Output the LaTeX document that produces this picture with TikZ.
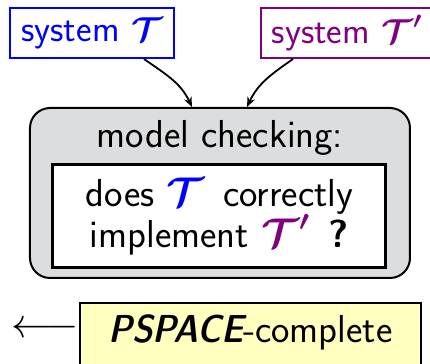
\documentclass[tikz,border=0pt]{standalone}
\usepackage{amsmath,amssymb,bm}
\usetikzlibrary{arrows.meta}
\definecolor{sysblue}{RGB}{0,0,255}
\definecolor{syspurple}{RGB}{128,0,128}
\definecolor{boxgray}{RGB}{220,221,223}
\definecolor{paleyellow}{RGB}{255,255,192}
\newcommand{\sysT}{\bm{\mathcal{T}}}
\newcommand{\sysTp}{\bm{\mathcal{T}'}}
\begin{document}
\begin{tikzpicture}[x=0.5pt,y=-0.5pt,
  font=\sffamily\fontsize{19.5}{21}\selectfont,
  sysbox/.style={draw=#1,text=#1,line width=1pt,inner sep=0pt,minimum height=25pt,
                 font=\sffamily\fontsize{18.5}{21}\selectfont},
  link/.style={line width=0.9pt,-{Stealth[length=5pt,width=4pt]}}]
  \useasboundingbox (0,0) rectangle (430,364);
  % input systems
  \node[sysbox=sysblue,minimum width=82pt] (impl) at (92,33) {system $\sysT$};
  \node[sysbox=syspurple,minimum width=86pt] (spec) at (347,33) {system $\sysTp$};
  % model checking box
  \node[draw=black,fill=boxgray,line width=1pt,rounded corners=10pt,
        minimum width=190pt,minimum height=85pt] (mc) at (220,193) {};
  \node (mctitle) at (220,138) {model checking:};
  \node[draw=black,fill=white,line width=1.5pt,minimum width=166.5pt,minimum height=51.5pt,
        align=center,inner sep=0pt] (question) at (219.5,216.5)
        {does {\color{sysblue}$\sysT$}\, correctly\\[-0.5pt]implement {\color{syspurple}$\sysTp$}\, \textbf{?}};
  % inputs feed the checker
  \draw[link] (impl.south east) ++(-15.5pt,0) coordinate (a1) to[out=-35,in=115] (mc.north -| 192,0);
  \draw[link] (spec.south west) ++(16.5pt,0) coordinate (a2) to[out=-145,in=65] (mc.north -| 247,0);
  % complexity result
  \node[draw=black,fill=paleyellow,line width=1pt,anchor=north west,inner xsep=0pt,inner ysep=4pt,
        text height=16pt,text depth=22pt,minimum width=170.5pt] (cplx) at (79,302)
        {{\fontseries{sbc}\slshape PSPACE}-complete};
  \node (back) at (45,330) {$\longleftarrow$};
\end{tikzpicture}
\end{document}
